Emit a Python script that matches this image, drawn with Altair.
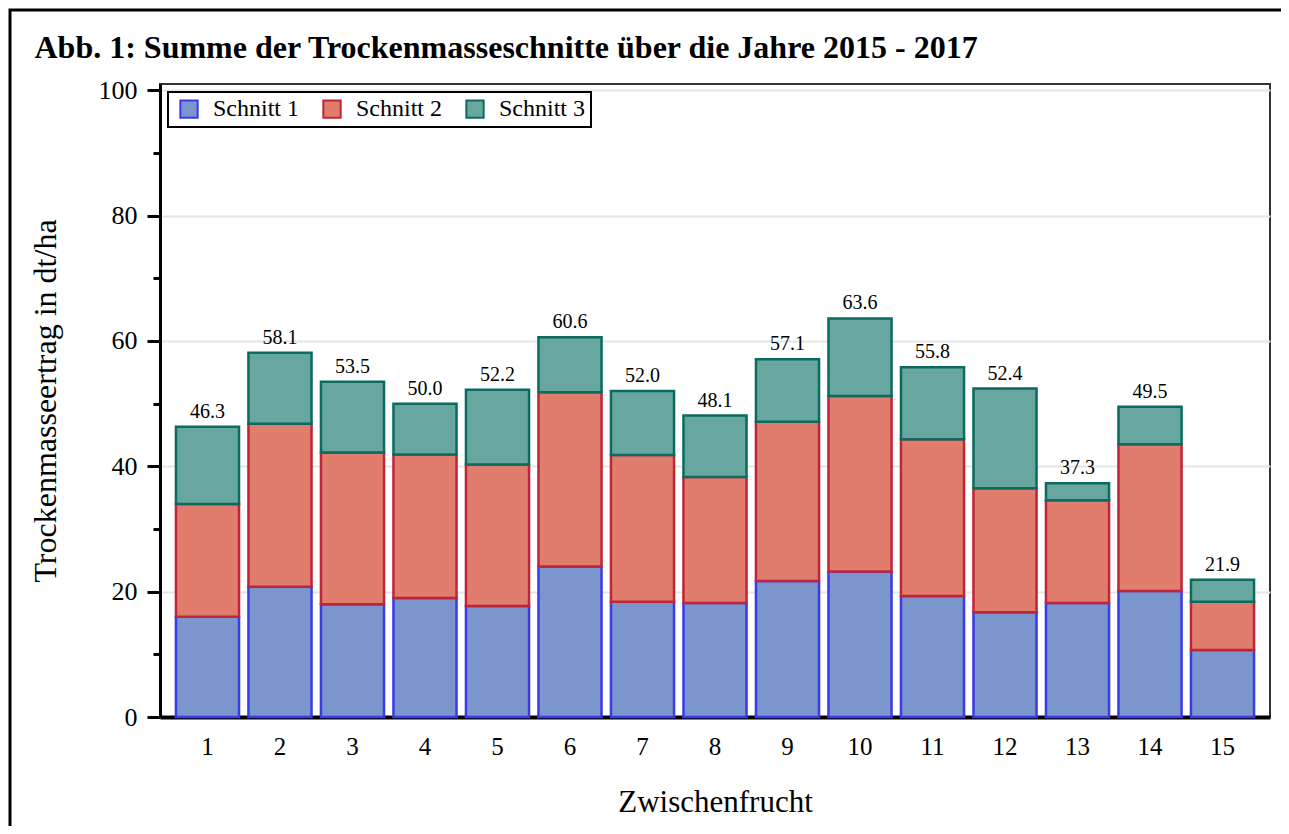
import altair as alt
import pandas as pd

# ---- data ----
categories = [str(i) for i in range(1, 16)]
series = ["Schnitt 1", "Schnitt 2", "Schnitt 3"]
schnitt1 = [16.0, 20.8, 18.0, 19.0, 17.7, 24.0, 18.4, 18.2, 21.7, 23.2, 19.3, 16.7, 18.2, 20.1, 10.7]
schnitt2 = [18.0, 26.0, 24.2, 22.9, 22.6, 27.8, 23.4, 20.1, 25.4, 28.0, 25.0, 19.8, 16.4, 23.4, 7.7]
schnitt3 = [12.3, 11.3, 11.3, 8.1, 11.9, 8.8, 10.2, 9.8, 10.0, 12.4, 11.5, 15.9, 2.7, 6.0, 3.5]
summen = [46.3, 58.1, 53.5, 50.0, 52.2, 60.6, 52.0, 48.1, 57.1, 63.6, 55.8, 52.4, 37.3, 49.5, 21.9]

fill_colors = ["#7b96cc", "#e07d6d", "#68a7a0"]
stroke_colors = ["#3a3ae8", "#c0243a", "#0b6b5e"]

FONT = "Liberation Serif"

rows = []
for si, (name, vals) in enumerate(zip(series, [schnitt1, schnitt2, schnitt3])):
    for c, v in zip(categories, vals):
        rows.append({"Zwischenfrucht": c, "Schnitt": name, "reihenfolge": si, "wert": v})
df = pd.DataFrame(rows)
df_sum = pd.DataFrame({"Zwischenfrucht": categories, "summe": summen})

x_enc = alt.X(
    "Zwischenfrucht:N",
    sort=categories,
    scale=alt.Scale(paddingInner=0.13, paddingOuter=0.22),
    axis=alt.Axis(
        title="Zwischenfrucht",
        labelAngle=0,
        ticks=False,
        labelFont=FONT,
        labelFontSize=25,
        labelColor="black",
        labelPadding=17,
        titleFont=FONT,
        titleFontSize=31,
        titleFontWeight="normal",
        titleColor="black",
        titlePadding=28,
        domainColor="black",
        domainWidth=4,
        grid=False,
    ),
)

y_scale = alt.Scale(domain=[0, 101], nice=False, zero=True)

bars = alt.Chart(df).mark_bar(strokeWidth=2.5).encode(
    x=x_enc,
    y=alt.Y(
        "wert:Q",
        stack="zero",
        scale=y_scale,
        axis=alt.Axis(
            title="Trockenmasseertrag in dt/ha",
            values=[0, 10, 20, 30, 40, 50, 60, 70, 80, 90, 100],
            labelExpr="datum.value % 20 == 0 ? datum.label : ''",
            tickSize={"condition": {"test": "datum.value % 20 == 0", "value": 13}, "value": 7},
            tickWidth=3,
            tickColor="black",
            labelFont=FONT,
            labelFontSize=26,
            labelColor="black",
            labelPadding=10,
            titleFont=FONT,
            titleFontSize=32,
            titleFontWeight="normal",
            titleColor="black",
            titlePadding=36,
            domainColor="black",
            domainWidth=3,
            grid=True,
            gridColor="#e6e6e6",
            gridWidth=2,
            gridOpacity={"condition": {"test": "datum.value % 20 == 0 && datum.value > 0", "value": 1}, "value": 0},
        ),
    ),
    fill=alt.Fill(
        "Schnitt:N",
        scale=alt.Scale(domain=series, range=fill_colors),
        legend=alt.Legend(title=None),
    ),
    stroke=alt.Stroke(
        "Schnitt:N",
        scale=alt.Scale(domain=series, range=stroke_colors),
        legend=alt.Legend(title=None),
    ),
    order=alt.Order("reihenfolge:Q", sort="ascending"),
)

labels = alt.Chart(df_sum).mark_text(
    baseline="bottom", dy=-5, fontSize=20, font=FONT, color="black"
).encode(
    x=alt.X("Zwischenfrucht:N", sort=categories),
    y=alt.Y("summe:Q", scale=y_scale),
    text=alt.Text("summe:Q", format=".1f"),
)

frame = alt.Chart(alt.Data(values=[{"k": 1}])).mark_rect(
    fillOpacity=0, stroke="black", strokeWidth=3
).encode(
    x=alt.value(-150), x2=alt.value(1140), y=alt.value(-74), y2=alt.value(770)
)

chart = (
    alt.layer(frame, bars, labels)
    .properties(
        width=1110,
        height=633,
        title=alt.TitleParams(
            "Abb. 1: Summe der Trockenmasseschnitte über die Jahre 2015 - 2017",
            anchor="start",
            dx=26,
            dy=108,
            offset=27,
            font=FONT,
            fontSize=32,
            fontWeight="bold",
            color="black",
            baseline="alphabetic",
        ),
        autosize=alt.AutoSizeParams(type="none"),
        padding={"left": 152, "top": 76, "right": 11, "bottom": 109},
    )
    .configure_view(stroke="#333333", strokeWidth=2)
    .configure_legend(
        orient="none",
        legendX=8,
        legendY=8,
        direction="horizontal",
        strokeColor="black",
        strokeWidth=2,
        padding=5,
        symbolType="square",
        symbolSize=300,
        symbolStrokeWidth=2,
        symbolOffset=4,
        labelFont=FONT,
        labelFontSize=24,
        labelColor="black",
        labelOffset=12,
        columnPadding=16,
        fillColor="white",
    )
)

chart.save("out.html", embed_options={"renderer": "svg", "actions": False})
